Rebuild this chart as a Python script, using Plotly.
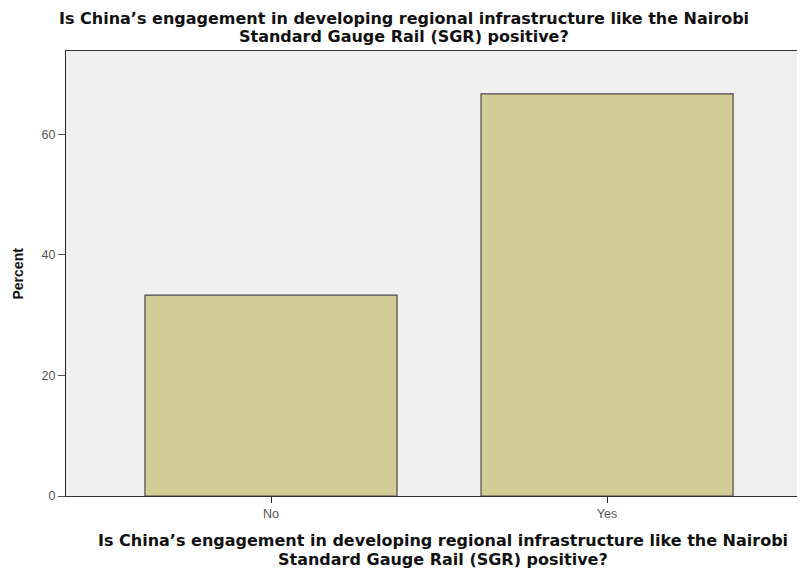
import plotly.graph_objects as go

categories = ["No", "Yes"]
percent = [33.3, 66.7]
y_ticks = [0, 20, 40, 60]
question_lines = ["Is China\u2019s engagement in developing regional infrastructure like the Nairobi",
                  "Standard Gauge Rail (SGR) positive?"]

fig = go.Figure(go.Bar(
    x=categories, y=percent, width=0.75,
    marker=dict(color="#d2cd96", line=dict(color="#4a4a4a", width=1.2)),
))

# page has ~7px body margin, compensate
fig.update_layout(
    width=798, height=566,
    margin=dict(l=58, r=0, t=43, b=78),
    paper_bgcolor="white", plot_bgcolor="#f0f0f0",
    font=dict(family="Liberation Sans, Arial, sans-serif"),
    showlegend=False,
)
fig.update_xaxes(
    range=[-0.61, 1.592], showgrid=False, zeroline=False,
    showline=True, linecolor="#333333", linewidth=1, mirror=True,
    ticks="outside", ticklen=6, tickcolor="#222222",
    tickfont=dict(size=12.5, color="#555555"),
)
fig.update_yaxes(
    range=[0, 73.8], tickvals=y_ticks, showgrid=False, zeroline=False,
    showline=True, linecolor="#222222", linewidth=1,
    ticks="outside", ticklen=7, tickcolor="#555555",
    tickfont=dict(size=12.5, color="#555555"),
)

tfont = dict(family="DejaVu Sans, sans-serif", size=16, color="#111111", weight="bold")
for txt, ys in zip(question_lines, [33, 15]):
    fig.add_annotation(text=txt, xref="paper", yref="paper",
                       x=(403 - 65) / 740, y=1, yshift=ys, xanchor="center", yanchor="middle",
                       showarrow=False, font=tfont)
afont = dict(family="DejaVu Sans, sans-serif", size=16, color="#111111", weight="bold")
for txt, ys in zip(question_lines, [-44, -63]):
    fig.add_annotation(text=txt, xref="paper", yref="paper",
                       x=(442 - 65) / 740, y=0, yshift=ys, xanchor="center", yanchor="middle",
                       showarrow=False, font=afont)
fig.add_annotation(text="<b>Percent</b>", xref="paper", yref="paper",
                   x=0, xshift=-49, y=0.5, xanchor="center", yanchor="middle", textangle=-90,
                   showarrow=False, font=dict(size=14, color="#111111"))

fig.write_html("out.html")
